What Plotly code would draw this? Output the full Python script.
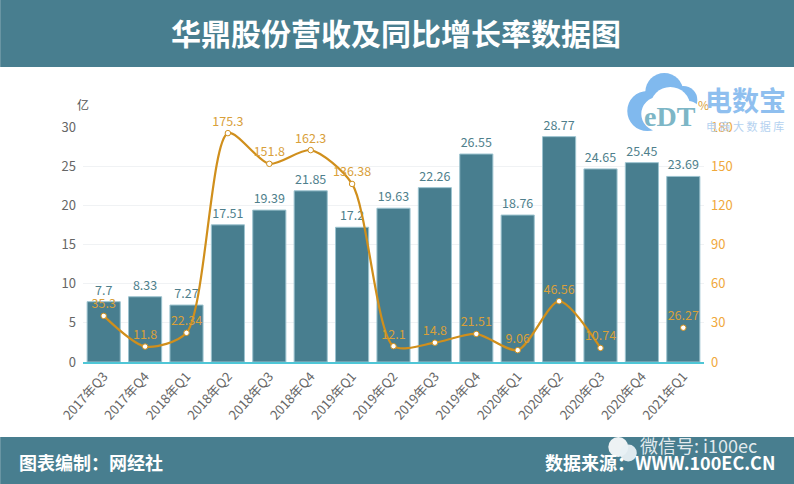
import plotly.graph_objects as go

categories = ["2017年Q3","2017年Q4","2018年Q1","2018年Q2","2018年Q3","2018年Q4","2019年Q1","2019年Q2",
              "2019年Q3","2019年Q4","2020年Q1","2020年Q2","2020年Q3","2020年Q4","2021年Q1"]
revenue = [7.7,8.33,7.27,17.51,19.39,21.85,17.2,19.63,22.26,26.55,18.76,28.77,24.65,25.45,23.69]
growth = [35.3,11.8,22.34,175.3,151.8,162.3,136.38,12.1,14.8,21.51,9.06,46.56,10.74,None,26.27]
growth_labels = ["35.3","11.8","22.34","175.3","151.8","162.3","136.38","12.1","14.8","21.51","9.06","46.56","10.74","","26.27"]
revenue_labels = ["7.7","8.33","7.27","17.51","19.39","21.85","17.2","19.63","22.26","26.55","18.76","28.77","24.65","25.45","23.69"]
left_ticks = [0,5,10,15,20,25,30]
right_ticks = [0,30,60,90,120,150,180]

W, H = 794, 484
L, R, T, B = 82.8, 703.7, 127, 362
TEAL = "#487E8F"
ORANGE = "#D08F1C"
FONT = "Noto Sans CJK SC"
def px(x): return (x - L) / (R - L)
def py(y): return (B - y) / (B - T)

fig = go.Figure()
fig.add_trace(go.Bar(x=categories, y=revenue, width=0.8, yaxis="y",
    marker=dict(color=TEAL, line=dict(color="#9CC3CF", width=1)),
    text=revenue_labels, textposition="outside", cliponaxis=False,
    textfont=dict(family=FONT, size=12.5, color="#4F7F8C"), showlegend=False))
fig.add_trace(go.Scatter(x=categories, y=growth, yaxis="y2", mode="lines+markers+text",
    line=dict(color=ORANGE, width=2.2, shape="spline", smoothing=0.75),
    marker=dict(size=5.5, color="white", line=dict(color=ORANGE, width=1)),
    text=growth_labels, textposition="top center", cliponaxis=False, connectgaps=False,
    textfont=dict(family=FONT, size=12.5, color="#D9A03A"), showlegend=False))

shapes = [
    dict(type="rect", xref="paper", yref="paper", x0=px(0), x1=px(W), y0=py(67), y1=py(0), fillcolor=TEAL, line_width=0, layer="below"),
    dict(type="rect", xref="paper", yref="paper", x0=px(0), x1=px(W), y0=py(H), y1=py(437), fillcolor=TEAL, line_width=0, layer="below"),
]
def circle(cx, cy, r, color, op=1.0, ry=None):
    ry = ry or r
    return dict(type="circle", xref="paper", yref="paper", x0=px(cx-r), x1=px(cx+r),
                y0=py(cy+ry), y1=py(cy-ry), fillcolor=color, line_width=0, opacity=op, layer="above")
CLOUD = "#80B9EE"
for c in [(647,111,20),(664,92,19),(683,100,14)]:
    shapes.append(circle(c[0], c[1], c[2], CLOUD))
for c in [(658,114,17),(670,107,20),(688,114,13)]:
    shapes.append(circle(c[0], c[1], c[2], "white"))
shapes.append(circle(618, 447, 10, "#FFFFFF", 0.9))
shapes.append(circle(628, 453, 8.5, "#E8F0F4", 0.95))

def note(text, x, y, size, color, bold=False, anchor="center", family=FONT, angle=0):
    t = f"<b>{text}</b>" if bold else text
    return dict(text=t, xref="paper", yref="paper", x=px(x), y=py(y), xanchor=anchor, yanchor="middle",
                showarrow=False, textangle=angle, font=dict(family=family, size=size, color=color))

annotations = [
    note("华鼎股份营收及同比增长率数据图", 396, 32, 30, "white", True),
    note("图表编制：网经社", 17, 462, 18, "white", True, "left"),
    note("数据来源：WWW.100EC.CN", 777, 462, 18, "white", True, "right"),
    note("微信号: i100ec", 759, 445, 18, "rgba(255,255,255,0.85)", False, "right"),
    note("亿", 83, 104, 12, "#555555"),
    note("%", 703, 104, 12, "#D9A03A"),
    note("eDT", 670, 116, 28, "#7DB6C6", True, family="Liberation Serif"),
    note("电数宝", 745, 99, 27, "#8FBFEF", True),
    note("电 商 大 数 据 库", 745, 126, 11, "#B5D2F0"),
]

fig.update_layout(
    width=W, height=H, autosize=False, paper_bgcolor="white", plot_bgcolor="rgba(0,0,0,0)",
    margin=dict(l=L, r=W-R, t=T, b=H-B, autoexpand=False, pad=0), bargap=0.2, showlegend=False,
    xaxis=dict(type="category", range=[-0.5,14.5], tickangle=-48, showgrid=False, showline=True, linecolor="#4FC6D6", linewidth=1.5,
               ticks="", tickfont=dict(family=FONT, size=13, color="#666666"), automargin=False),
    yaxis=dict(range=[0,30], tickvals=left_ticks, showgrid=True, gridcolor="#F0F2F4", gridwidth=1, zeroline=False,
               ticks="", ticklabelstandoff=6, tickfont=dict(family=FONT, size=13, color="#666666"), automargin=False),
    yaxis2=dict(range=[0,180], tickvals=right_ticks, overlaying="y", side="right", showgrid=False, zeroline=False,
                ticks="", ticklabelstandoff=6, tickfont=dict(family=FONT, size=13, color="#F0A83C"), automargin=False),
    shapes=shapes, annotations=annotations,
)
fig.write_html("out.html", config={"displayModeBar": False}, post_script="document.body.style.margin='0';")
